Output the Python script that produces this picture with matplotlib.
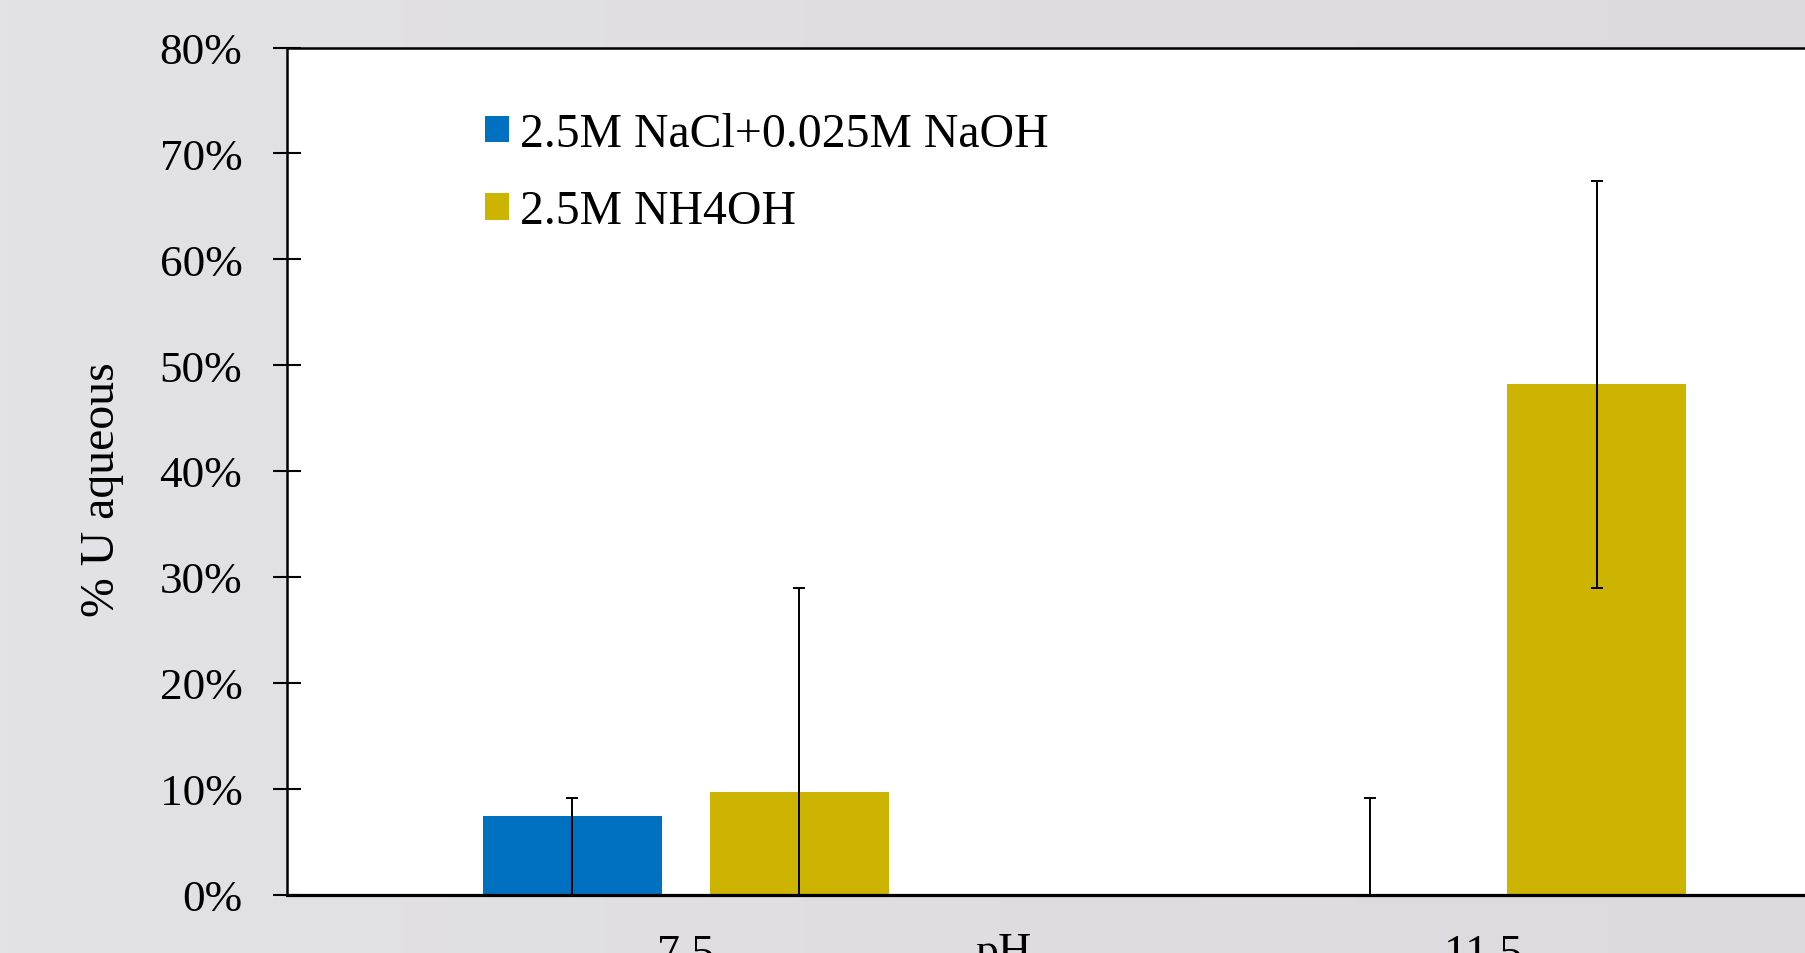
import numpy as np
import matplotlib
matplotlib.use("Agg")
import matplotlib.pyplot as plt
from matplotlib.ticker import PercentFormatter

# --- data -------------------------------------------------------------
ph_labels = ["7.5", "11.5"]
series_names = ["2.5M NaCl+0.025M NaOH", "2.5M NH4OH"]
naoh_values = [7.44, 0.0]        # % U aqueous
naoh_err_low = [7.44, 0.0]
naoh_err_high = [1.64, 9.1]
nh4oh_values = [9.68, 48.18]
nh4oh_err_low = [9.68, 19.22]
nh4oh_err_high = [19.26, 19.22]
y_ticks = [0, 10, 20, 30, 40, 50, 60, 70, 80]

colors = ["#0070C0", "#CCB400"]

# --- figure -----------------------------------------------------------
W, H, DPI = 1805, 954, 100
plt.rcParams["font.family"] = ["Liberation Serif", "DejaVu Serif"]
fig = plt.figure(figsize=(W / DPI, H / DPI), dpi=DPI)

# soft grey gradient background
bg = fig.add_axes([0, 0, 1, 1], zorder=-10)
grad = np.linspace(0, 1, 256)
left_c = np.array([226, 226, 231]) / 255.0
right_c = np.array([222, 217, 221]) / 255.0
img = left_c[None, :] * (1 - grad[:, None]) + right_c[None, :] * grad[:, None]
bg.imshow(img[None, :, :], aspect="auto", extent=[0, 1, 0, 1])
bg.set_axis_off()

ax_left, ax_right = 286.7, 1882.0
ax_top, ax_bottom = 48.5, 895.5
ax = fig.add_axes([ax_left / W, 1 - ax_bottom / H,
                   (ax_right - ax_left) / W, (ax_bottom - ax_top) / H])
ax.set_facecolor("white")

x = np.arange(len(ph_labels))
width = 0.2244
offset = 0.1423

err_kw = dict(ecolor="black", elinewidth=1.4, capsize=4.3, capthick=1.4)
ax.bar(x - offset, naoh_values, width, color=colors[0], label=series_names[0],
       yerr=[naoh_err_low, naoh_err_high], error_kw=err_kw, zorder=2)
ax.bar(x + offset, nh4oh_values, width, color=colors[1], label=series_names[1],
       yerr=[nh4oh_err_low, nh4oh_err_high], error_kw=err_kw, zorder=2)

ax.set_xlim(-0.5, len(ph_labels) - 0.5)
ax.set_ylim(0, 80)
ax.set_yticks(y_ticks)
ax.yaxis.set_major_formatter(PercentFormatter(decimals=0))
ax.set_xticks(x)
ax.set_xticklabels(ph_labels)

ax.tick_params(axis="y", direction="inout", length=20, width=1.5,
               labelsize=32.5, pad=22, colors="black")
ax.tick_params(axis="x", length=0, labelsize=33, pad=28)

for side in ["left", "top", "right"]:
    ax.spines[side].set_linewidth(1.8)
    ax.spines[side].set_zorder(5)
ax.spines["bottom"].set_linewidth(2.3)
ax.spines["bottom"].set_zorder(5)

ax.set_ylabel("% U aqueous", fontsize=34.4)
ax.yaxis.set_label_coords((124 - ax_left) / (ax_right - ax_left),
                          (ax_bottom - 490) / (ax_bottom - ax_top))
ax.set_xlabel("pH", fontsize=33)
ax.xaxis.set_label_coords((1003 - ax_left) / (ax_right - ax_left),
                          (ax_bottom - 933) / (ax_bottom - ax_top))

ax.legend(loc="upper left", bbox_to_anchor=(485.5 / W, 1 - 113 / H),
          bbox_transform=fig.transFigure, frameon=False, fontsize=34.4,
          handlelength=0.5, handleheight=0.48, handletextpad=0.23,
          labelspacing=0.70, borderpad=0, borderaxespad=0)

fig.savefig("out.png", dpi=DPI)
